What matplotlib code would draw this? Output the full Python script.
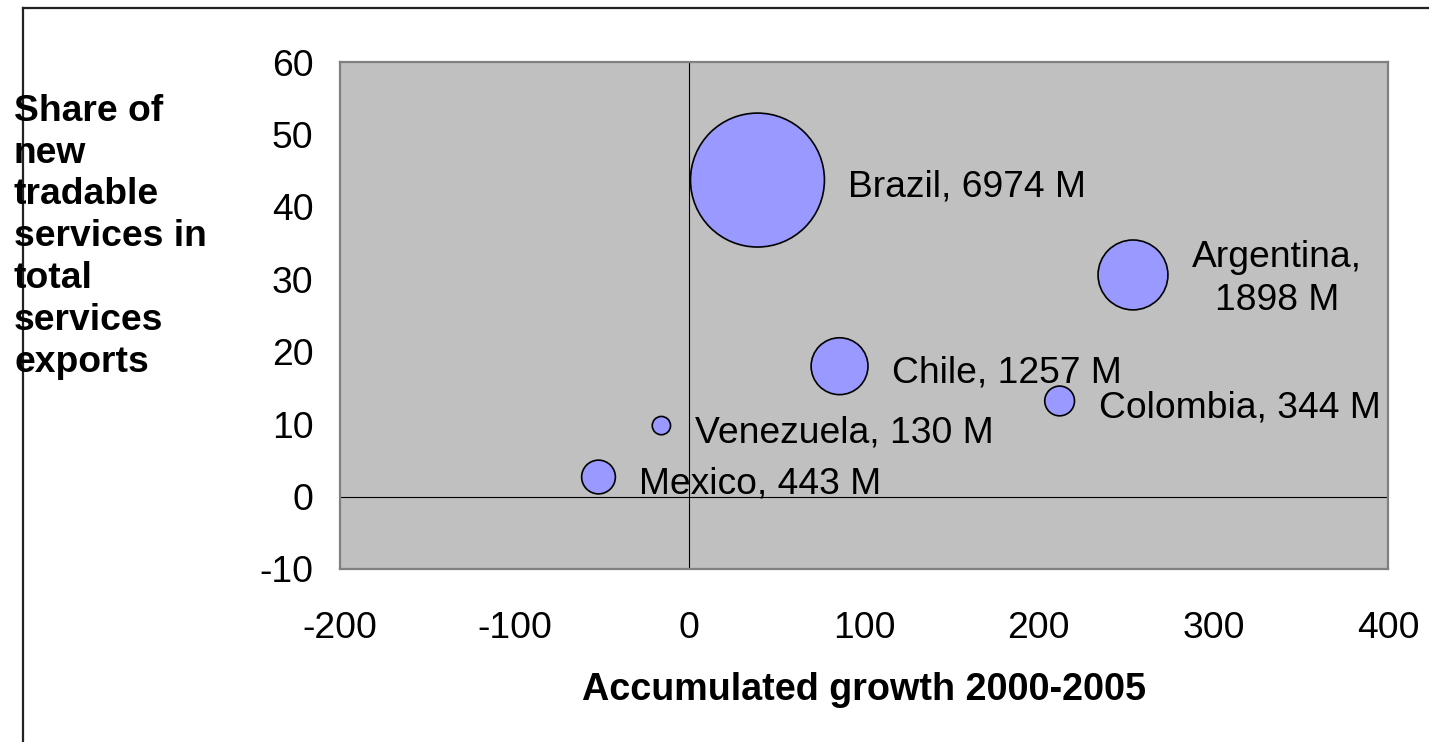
import numpy as np
import matplotlib
matplotlib.use("Agg")
import matplotlib.pyplot as plt
from matplotlib.lines import Line2D

plt.rcParams['font.family'] = ['Liberation Sans', 'DejaVu Sans']
plt.rcParams['axes.unicode_minus'] = False

# data
countries = ['Brazil', 'Argentina', 'Chile', 'Colombia', 'Venezuela', 'Mexico']
growth = [39, 254, 86, 212, -16, -52]          # accumulated growth 2000-2005
share = [43.7, 30.6, 18.0, 13.2, 9.8, 2.7]     # share of new tradable services
exports = [6974, 1898, 1257, 344, 130, 443]    # bubble size, M
labels = ['Brazil, 6974 M', 'Argentina,\n1898 M', 'Chile, 1257 M',
          'Colombia, 344 M', 'Venezuela, 130 M', 'Mexico, 443 M']

DPI = 100
W, H = 1429, 742
FS = 26.8

fig = plt.figure(figsize=(W / DPI, H / DPI), dpi=DPI)
ax = fig.add_axes([340 / W, 1 - 569 / H, 1048 / W, 507 / H])
ax.set_facecolor('#C0C0C0')
for sp in ax.spines.values():
    sp.set_color('#808080')
    sp.set_linewidth(1.6)

ax.set_xlim(-200, 400)
ax.set_ylim(-10, 60)
ax.set_xticks(np.arange(-200, 401, 100))
ax.set_yticks(np.arange(-10, 61, 10))
ax.tick_params(axis='both', length=0, labelsize=FS)
ax.tick_params(axis='y', pad=19)
ax.tick_params(axis='x', pad=30)

ax.axhline(0, color='black', lw=0.8, zorder=1)
ax.axvline(0, color='black', lw=0.8, zorder=1)

# bubble radius in px ~ 0.802*sqrt(value); scatter s in pt^2
r_px = 0.802 * np.sqrt(np.array(exports))
s = (2 * r_px * 72 / DPI) ** 2
ax.scatter(growth, share, s=s, color='#9999FF', edgecolors='black',
           linewidths=1.2, zorder=3)

for gx, sy, r, lab in zip(growth, share, r_px, labels):
    off = (r + 24) * 72 / DPI
    if '\n' in lab:
        # two-line label, centred
        ax.annotate(lab, (gx, sy), xytext=(off, -3), textcoords='offset points',
                    ha='left', va='center', fontsize=FS, multialignment='center',
                    linespacing=1.32, zorder=4)
    else:
        ax.annotate(lab, (gx, sy), xytext=(off, -5), textcoords='offset points',
                    ha='left', va='center', fontsize=FS, zorder=4)

fig.text(864 / W, 1 - 700 / H, 'Accumulated growth 2000-2005', ha='center',
         va='baseline', fontsize=27.2, fontweight='bold')
fig.text(14 / W, 1 - 94 / H,
         'Share of\nnew\ntradable\nservices in\ntotal\nservices\nexports',
         ha='left', va='top', fontsize=FS, fontweight='bold',
         linespacing=1.25, zorder=5)

# outer chart border (top and left edges visible)
fig.add_artist(Line2D([23 / W, 1], [1 - 8 / H, 1 - 8 / H], color='#222222', lw=1.6,
                      transform=fig.transFigure))
fig.add_artist(Line2D([23 / W, 23 / W], [0, 1 - 8 / H], color='#222222', lw=1.6,
                      transform=fig.transFigure))

fig.savefig('out.png', dpi=DPI)
